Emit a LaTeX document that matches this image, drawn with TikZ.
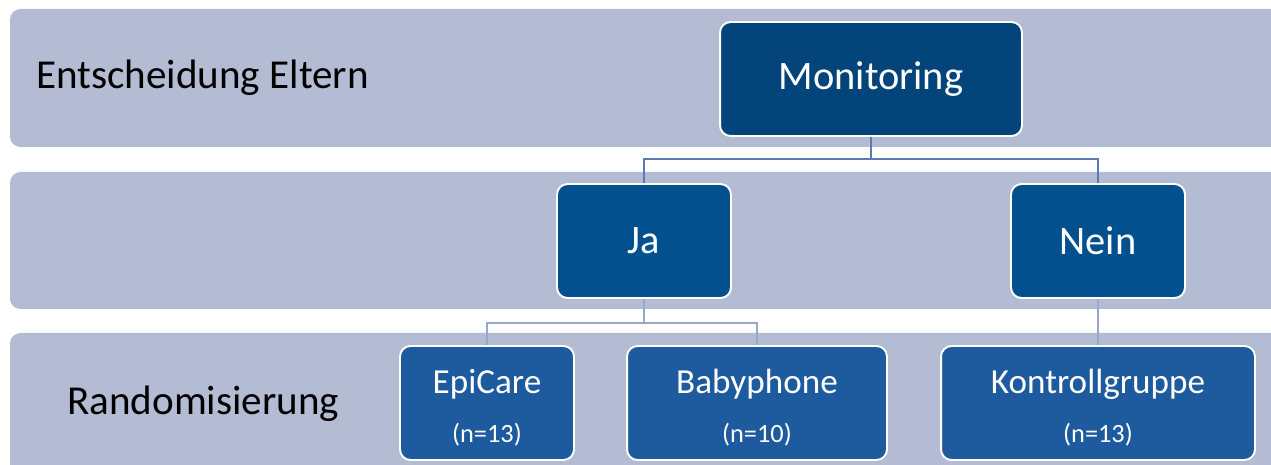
\documentclass[tikz,border=0pt]{standalone}
\usepackage{fontspec}
\setmainfont{Carlito}

\definecolor{bandgrey}{HTML}{B4BCD3}
\definecolor{topblue}{HTML}{03457A}
\definecolor{midblue}{HTML}{03508F}
\definecolor{lowblue}{HTML}{1D5A9E}
\definecolor{linkdark}{HTML}{5B7BB4}
\definecolor{linklight}{HTML}{97A8CB}

\newcommand{\toprule}{\rule{0pt}{19.5pt}}

\begin{document}
\begin{tikzpicture}[x=0.02cm,y=-0.02cm,
    band/.style={fill=bandgrey,rounded corners=6pt},
    box/.style={draw=white,line width=1.1pt,rounded corners=6pt,text=white,
        minimum height=2.28cm,inner sep=0pt,align=center},
    bigtext/.style={font=\fontsize{23}{28}\selectfont},
    labtext/.style={font=\fontsize{23.4}{28}\selectfont},
    smalltext/.style={font=\fontsize{20}{28}\selectfont},
    link/.style={draw=#1,line width=1.1pt}]

    \useasboundingbox (0,0) rectangle (1271,465);
    \clip (0,0) rectangle (1271,465);

    %baender
    \fill[band] (10,9) rectangle (1300,147);
    \fill[band] (10,172) rectangle (1300,309);
    \fill[band] (10,333) rectangle (1300,500);

    \node[labtext,anchor=west] (lab1) at (30,78) {Entscheidung Eltern};
    \node[labtext,anchor=west] (lab3) at (61,404) {Randomisierung};

    \node[box,bigtext,fill=topblue,minimum width=6.04cm] (mon) at (871,79) {Monitoring};
    \node[box,bigtext,fill=midblue,minimum width=3.48cm] (ja) at (644,241) {Ja};
    \node[box,bigtext,fill=midblue,minimum width=3.48cm] (nein) at (1098,241) {Nein};

    \node[box,smalltext,fill=lowblue,minimum width=3.48cm] (epi) at (487,403)
        {\toprule EpiCare\\{\fontsize{15}{18}\selectfont (n=13)}};
    \node[box,smalltext,fill=lowblue,minimum width=5.2cm] (baby) at (757,403)
        {\toprule Babyphone\\{\fontsize{15}{18}\selectfont (n=10)}};
    \node[box,smalltext,fill=lowblue,minimum width=6.28cm] (kon) at (1098,403)
        {\toprule Kontrollgruppe\\{\fontsize{15}{18}\selectfont (n=13)}};

    %verbindungen
    \draw[link=linkdark] (mon.south) -- ++(0,22) -| (ja.north);
    \draw[link=linkdark] (mon.south) -- ++(0,22) -| (nein.north);
    \draw[link=linklight] (ja.south) -- ++(0,24) -| (epi.north);
    \draw[link=linklight] (ja.south) -- ++(0,24) -| (baby.north);
    \draw[link=linklight] (nein.south) -- (kon.north);

\end{tikzpicture}
\end{document}
